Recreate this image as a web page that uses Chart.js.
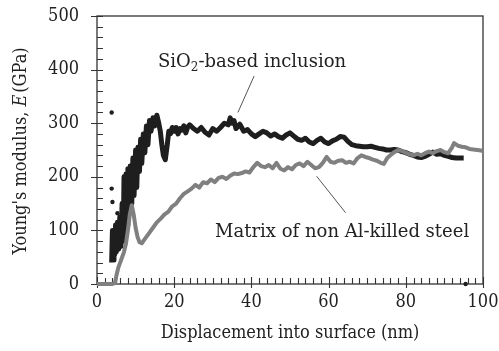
<!DOCTYPE html>
<html>
<head>
<meta charset="utf-8">
<script src="https://cdn.jsdelivr.net/npm/chart.js@4.4.0/dist/chart.umd.min.js"></script>
<style>
html, body { margin: 0; padding: 0; background: #fff; }
#wrap { width: 499px; height: 351px; }
</style>
</head>
<body>
<div id="wrap"><canvas id="chart" width="499" height="351"></canvas></div>
<script>
// axis ranges / tick labels
const xTicks = [0, 20, 40, 60, 80, 100];
const yTicks = [0, 100, 200, 300, 400, 500];

// SiO2-based inclusion (black)
const inclusionX = [3.8, 4.0, 4.2, 4.4, 4.6, 4.8, 5.0, 5.3, 5.6, 5.9, 6.2, 6.5, 6.8, 7.0, 7.2, 7.5, 7.8, 8.0, 8.3, 8.6,
  9.0, 9.3, 9.6, 10.0, 10.3, 10.6, 11.0, 11.3, 11.6, 12.0, 12.4, 12.8, 13.2, 13.6, 14.0, 14.5, 15.0, 15.5, 16.0, 16.4,
  16.8, 17.2, 17.7, 18.2, 18.6, 19.0, 19.5, 20.0, 20.5, 21.0, 21.5, 22.0, 22.5, 23.0, 23.5, 24, 25, 26, 27, 28,
  29, 30, 31, 32, 33, 34, 34.5, 35, 35.5, 36, 37, 38, 39, 40, 41, 42, 43, 44, 45, 46,
  47, 48, 49, 50, 51, 52, 53, 54, 55, 56, 57, 58, 59, 60, 61, 62, 63, 64, 65, 66,
  67, 68, 69, 70, 71, 72, 73, 74, 75, 76, 77, 78, 79, 80, 81, 82, 83, 84, 85, 86,
  87, 88, 89, 90, 91, 92, 93, 94, 95];
const inclusionY = [40, 100, 45, 95, 55, 110, 60, 115, 65, 125, 70, 150, 80, 200, 95, 205, 110, 215, 130, 220,
  150, 235, 165, 250, 180, 255, 210, 270, 225, 280, 245, 295, 260, 305, 285, 310, 295, 315, 300, 285,
  260, 240, 232, 260, 285, 280, 292, 285, 292, 280, 290, 287, 295, 282, 293, 297, 290, 285, 292, 283,
  278, 290, 285, 292, 300, 297, 310, 300, 305, 290, 298, 285, 288, 280, 275, 280, 285, 282, 276, 280,
  275, 272, 278, 282, 276, 270, 268, 272, 265, 262, 268, 272, 265, 262, 267, 270, 275, 274, 266, 260,
  258, 257, 256, 256, 257, 255, 253, 252, 250, 250, 251, 250, 247, 245, 242, 240, 237, 236, 238, 242,
  246, 242, 243, 240, 238, 236, 235, 235, 235];

// Matrix of non Al-killed steel (grey)
const matrixX = [0, 1, 2, 3, 4, 4.7, 5.0, 5.5, 6.0, 6.5, 7.0, 7.5, 8.0, 8.5, 9.0, 9.5, 10.0, 10.5, 11.0, 11.6,
  12.5, 13.5, 14.5, 15.5, 16.5, 17.5, 18.5, 19.5, 20.5, 21.5, 22.5, 23.5, 24.5, 25.5, 26.5, 27.5, 28.5, 29.5, 30.5, 31.5,
  32.5, 33.5, 34.5, 35.5, 36.5, 37.5, 38.5, 39.5, 40.5, 41.5, 42.5, 43.5, 44.5, 45.5, 46.5, 47.5, 48.5, 49.5, 50.5, 51.5,
  52.5, 53.5, 54.5, 55.5, 56.5, 57.5, 58.5, 59.5, 60.5, 61.5, 62.5, 63.5, 64.5, 65.5, 66.5, 67.5, 68.5, 69.5, 70.5, 71.5,
  72.5, 73.5, 74.3, 75.2, 76, 77, 78, 79, 80, 81, 82, 83, 84, 85, 86, 87, 88, 89, 90, 91,
  92, 92.5, 93.5, 94.5, 95.5, 96.5, 97.5, 98.5, 99.5, 100];
const matrixY = [0, 0, 0, 0, 0, 2, 15, 30, 40, 50, 60, 75, 100, 130, 147, 130, 105, 88, 78, 76,
  85, 95, 105, 115, 122, 130, 135, 145, 150, 160, 168, 173, 178, 185, 180, 190, 188, 195, 190, 198,
  200, 196, 202, 206, 205, 207, 210, 208, 218, 226, 220, 218, 222, 216, 226, 215, 212, 218, 214, 222,
  225, 220, 228, 222, 216, 218, 226, 237, 228, 226, 230, 231, 226, 228, 225, 235, 240, 237, 235, 232,
  230, 226, 224, 235, 240, 246, 250, 248, 245, 242, 240, 243, 240, 244, 247, 244, 248, 250, 246, 244,
  255, 263, 258, 256, 255, 252, 251, 250, 249, 248];

// isolated data points
const strayX = [3.8, 3.8, 4.0, 5.3, 95.5];
const strayY = [320, 178, 153, 132, 0];

const seriesNames = ['SiO2-based inclusion', 'Matrix of non Al-killed steel'];

const FONT = '"DejaVu Serif Condensed", "DejaVu Serif", serif';
const FONT_WIDE = '"DejaVu Serif", serif';
const pts = (xs, ys) => xs.map((x, i) => ({ x: x, y: ys[i] }));

const frameAndTicks = {
  id: 'frameAndTicks',
  beforeDatasetsDraw(chart) {
    const ctx = chart.ctx, a = chart.chartArea;
    const xs = chart.scales.x, ys = chart.scales.y;
    ctx.save();
    ctx.strokeStyle = '#333';
    ctx.lineWidth = 1.3;
    ctx.strokeRect(a.left, a.top, a.right - a.left, a.bottom - a.top);
    ctx.lineWidth = 1.1;
    ctx.beginPath();
    // x ticks: every 2 nm, majors every 20
    for (let v = 0; v <= 100; v += 2) {
      const px = Math.round(xs.getPixelForValue(v)) + 0.5;
      const major = v % 20 === 0;
      ctx.moveTo(px, a.bottom + (major ? 4 : 0));
      ctx.lineTo(px, a.bottom - (major ? 7 : 6));
    }
    // y ticks: every 20 GPa, majors every 100
    for (let v = 0; v <= 500; v += 20) {
      const py = Math.round(ys.getPixelForValue(v)) + 0.5;
      const major = v % 100 === 0;
      ctx.moveTo(a.left - (major ? 6 : 0), py);
      ctx.lineTo(a.left + 6, py);
    }
    ctx.stroke();
    ctx.restore();
  },
  afterDraw(chart) {
    const ctx = chart.ctx, a = chart.chartArea;
    const xs = chart.scales.x, ys = chart.scales.y;
    const big = '18px ' + FONT, ital = 'italic 18px ' + FONT;
    const note = '18px ' + FONT_WIDE, noteSmall = '12px ' + FONT_WIDE;
    ctx.save();
    ctx.fillStyle = '#222';
    ctx.textBaseline = 'alphabetic';
    ctx.textAlign = 'left';

    // SiO2 label
    let x0 = xs.getPixelForValue(15.8), y0 = ys.getPixelForValue(405);
    ctx.font = note; ctx.fillText('SiO', x0, y0); x0 += ctx.measureText('SiO').width;
    ctx.font = noteSmall; ctx.fillText('2', x0, y0 + 4); x0 += ctx.measureText('2').width;
    ctx.font = note; ctx.fillText('-based inclusion', x0, y0);

    // matrix label
    ctx.fillText(seriesNames[1], xs.getPixelForValue(30.6), ys.getPixelForValue(88));

    // leader lines
    ctx.strokeStyle = '#555';
    ctx.lineWidth = 1;
    ctx.beginPath();
    ctx.moveTo(xs.getPixelForValue(40.7), ys.getPixelForValue(388));
    ctx.lineTo(xs.getPixelForValue(36.5), ys.getPixelForValue(320));
    ctx.moveTo(xs.getPixelForValue(56.9), ys.getPixelForValue(201));
    ctx.lineTo(xs.getPixelForValue(64.4), ys.getPixelForValue(133));
    ctx.stroke();

    // x title
    ctx.font = big;
    ctx.textAlign = 'center';
    ctx.fillText('Displacement into surface (nm)', (a.left + a.right) / 2, 338);

    // y title, rotated, with italic E
    const parts = [["Young's modulus, ", big], ['E', ital], ['(GPa)', big]];
    let total = 0;
    parts.forEach(p => { ctx.font = p[1]; total += ctx.measureText(p[0]).width; });
    total += 2;
    ctx.translate(26, (a.top + a.bottom) / 2 + 1);
    ctx.rotate(-Math.PI / 2);
    ctx.textAlign = 'left';
    let cx = -total / 2;
    parts.forEach((p, i) => {
      ctx.font = p[1];
      ctx.fillText(p[0], cx, 0);
      cx += ctx.measureText(p[0]).width + (i === 1 ? 2 : 0);
    });
    ctx.restore();
  }
};

new Chart(document.getElementById('chart'), {
  type: 'line',
  data: {
    datasets: [
      {
        label: seriesNames[1],
        data: pts(matrixX, matrixY),
        borderColor: '#808080',
        borderWidth: 4,
        borderJoinStyle: 'round',
        pointRadius: 0,
        tension: 0,
        clip: 6,
        order: 0
      },
      {
        label: seriesNames[0],
        data: pts(inclusionX, inclusionY),
        borderColor: '#1e1e1e',
        borderWidth: 5,
        borderJoinStyle: 'round',
        pointRadius: 0,
        tension: 0,
        clip: 6,
        order: 1
      },
      {
        type: 'scatter',
        label: 'points',
        data: pts(strayX, strayY),
        backgroundColor: '#1e1e1e',
        borderWidth: 0,
        pointRadius: 2.2,
        clip: 6,
        order: 2
      }
    ]
  },
  options: {
    responsive: false,
    animation: false,
    layout: { padding: { left: 0, top: 16, right: 16, bottom: 0 } },
    plugins: { legend: { display: false }, tooltip: { enabled: false } },
    scales: {
      x: {
        type: 'linear', min: 0, max: 100,
        afterBuildTicks: s => { s.ticks = xTicks.map(v => ({ value: v })); },
        afterFit: s => { s.height = 67; s.paddingLeft = 0; s.paddingRight = 0; },
        grid: { display: false, drawTicks: false },
        border: { display: false },
        ticks: { padding: 8, color: '#222', font: { family: FONT, size: 18 } }
      },
      y: {
        type: 'linear', min: 0, max: 500,
        afterBuildTicks: s => { s.ticks = yTicks.map(v => ({ value: v })); },
        afterFit: s => { s.width = 97; s.paddingTop = 0; s.paddingBottom = 0; },
        grid: { display: false, drawTicks: false },
        border: { display: false },
        ticks: { padding: 18, color: '#222', font: { family: FONT, size: 18 } }
      }
    }
  },
  plugins: [frameAndTicks]
});
</script>
</body>
</html>
